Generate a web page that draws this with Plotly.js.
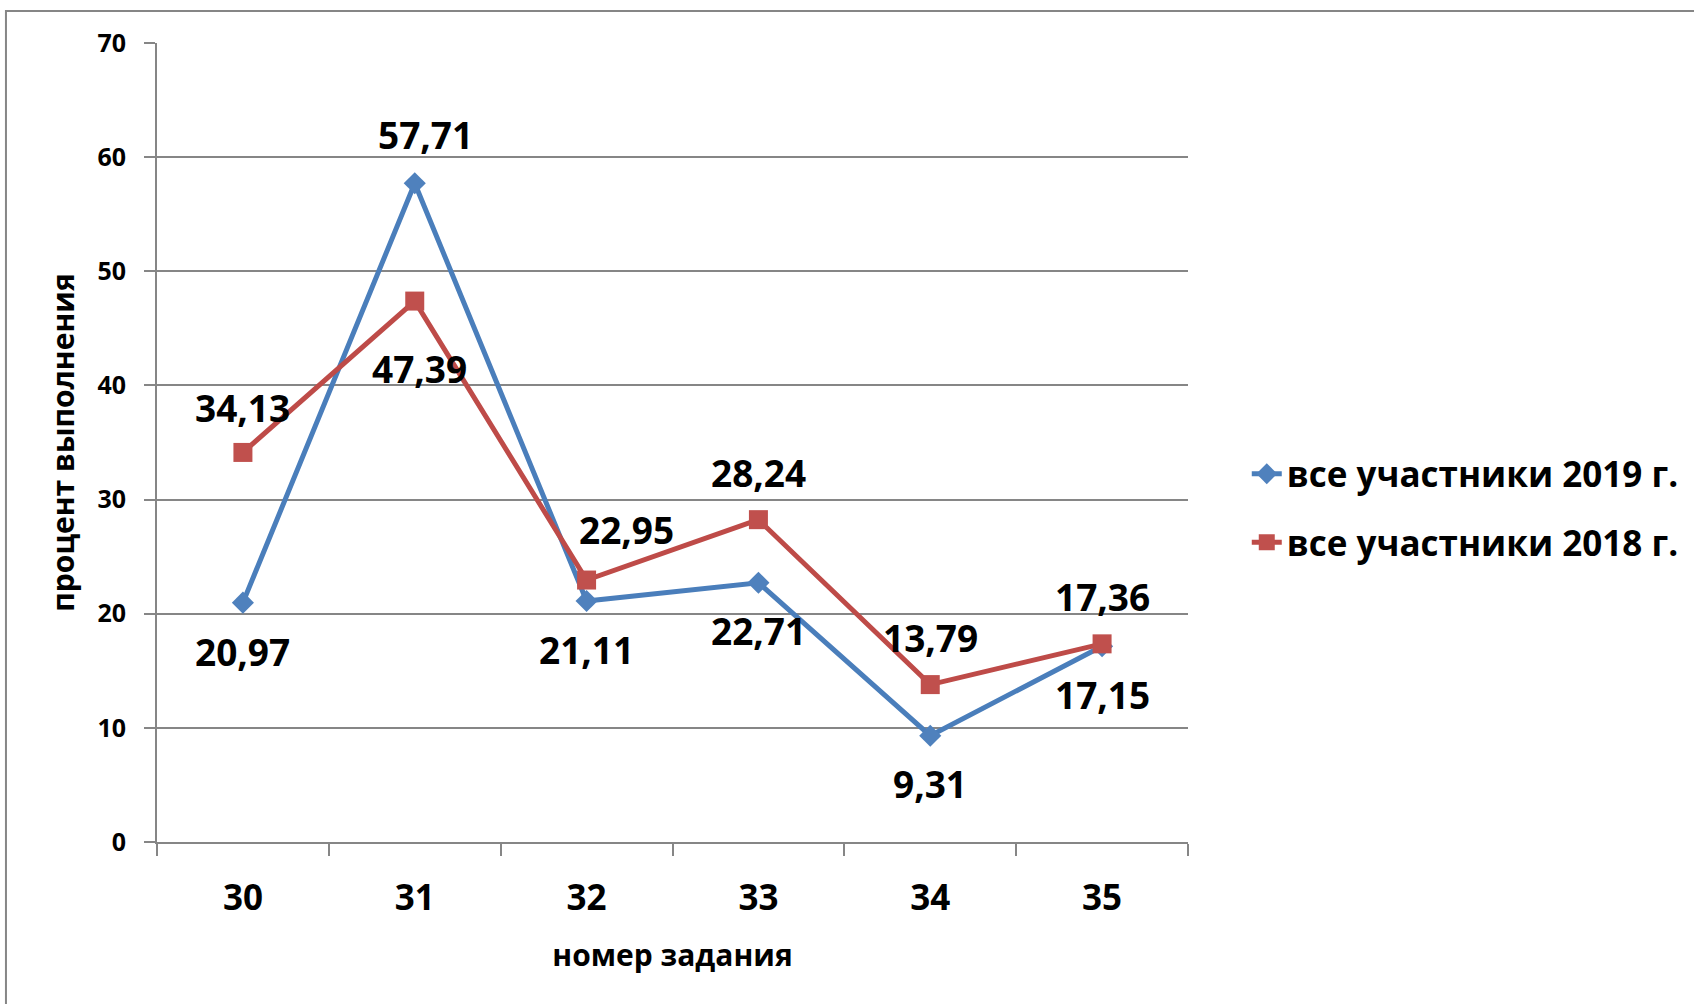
<!DOCTYPE html>
<html>
<head>
<meta charset="utf-8">
<script src="https://cdn.plot.ly/plotly-3.0.1.min.js"></script>
<style>
  html, body { margin: 0; padding: 0; background: #ffffff; }
  #chart { width: 1694px; height: 1004px; }
</style>
</head>
<body>
<div id="chart"></div>
<script>
// Task numbers on the x axis
const tasks = ['30', '31', '32', '33', '34', '35'];

// Completion percentage, all participants
const series2019 = [20.97, 57.71, 21.11, 22.71, 9.31, 17.15];
const series2018 = [34.13, 47.39, 22.95, 28.24, 13.79, 17.36];

const name2019 = 'все участники 2019 г.';
const name2018 = 'все участники 2018 г.';
const xTitle = 'номер задания';
const yTitle = 'процент выполнения';

const FONT = 'Open Sans, Noto Sans, sans-serif';
const BLUE_LINE = '#4A7EBB', BLUE_MARK = '#4F81BD';
const RED_LINE = '#BE4B48', RED_MARK = '#C0504D';
const GRID = '#868686';

// Pixel offsets of the value labels relative to their points
const shift2019 = [[0, -49], [11, 49], [0, -48], [0, -48], [0, -48], [0, -48]];
const shift2018 = [[0, 45], [5, -67], [40, 51], [0, 47], [0, 47], [0, 47]];

const fmt = v => v.toFixed(2).replace('.', ',');

const traces = [
  {
    x: tasks, y: series2019, name: name2019, type: 'scatter', mode: 'lines+markers',
    line: { color: BLUE_LINE, width: 5 },
    marker: { symbol: 'diamond', size: 17, color: BLUE_MARK },
    legendgroup: 'a', hoverinfo: 'skip'
  },
  {
    x: tasks, y: series2018, name: name2018, type: 'scatter', mode: 'lines+markers',
    line: { color: RED_LINE, width: 5 },
    marker: { symbol: 'square', size: 19, color: RED_MARK },
    legendgroup: 'b', hoverinfo: 'skip'
  }
];

const labelFont = { family: FONT, size: 37, color: '#000000', weight: 700 };
const annotations = [];
function addLabels(vals, shifts) {
  vals.forEach((v, i) => {
    // category axes take the category index as position
    annotations.push({
      x: i, y: v, xref: 'x', yref: 'y', text: fmt(v), showarrow: false,
      xshift: shifts[i][0], yshift: shifts[i][1], font: labelFont
    });
  });
}
addLabels(series2019, shift2019);
addLabels(series2018, shift2018);

const layout = {
  width: 1694, height: 1004, autosize: false,
  margin: { l: 157, r: 506, t: 43, b: 162, pad: 0, autoexpand: false },
  paper_bgcolor: '#ffffff', plot_bgcolor: '#ffffff',
  showlegend: true,
  xaxis: {
    type: 'category', range: [-0.5, tasks.length - 0.5], autorange: false,
    categoryorder: 'array', categoryarray: tasks,
    showgrid: false, zeroline: false,
    showline: true, linecolor: GRID, linewidth: 2,
    ticks: 'outside', tickson: 'boundaries', ticklen: 12, tickwidth: 2, tickcolor: GRID,
    tickangle: 0,
    tickfont: { family: FONT, size: 35, color: '#000000', weight: 700 },
    ticklabelstandoff: 24,
    title: { text: xTitle, standoff: 26, font: { family: FONT, size: 30, color: '#000000', weight: 700 } },
    automargin: false, fixedrange: true
  },
  yaxis: {
    range: [0, 70], autorange: false, dtick: 10, tick0: 0,
    showgrid: true, gridcolor: GRID, gridwidth: 2, zeroline: false,
    showline: true, linecolor: GRID, linewidth: 2,
    ticks: 'outside', ticklen: 11, tickwidth: 2, tickcolor: GRID,
    tickfont: { family: FONT, size: 25, color: '#000000', weight: 700 },
    ticklabelstandoff: 13,
    title: { text: yTitle, standoff: 14, font: { family: FONT, size: 30, color: '#000000', weight: 700 } },
    automargin: false, fixedrange: true
  },
  legend: {
    x: 1.057, xanchor: 'left', y: 0.418, yanchor: 'middle',
    traceorder: 'grouped', tracegroupgap: 20,
    font: { family: FONT, size: 35, color: '#000000', weight: 700 },
    bgcolor: 'rgba(0,0,0,0)', borderwidth: 0
  },
  annotations: annotations,
  shapes: [
    {
      type: 'rect', xref: 'paper', yref: 'paper',
      x0: -0.1465, y0: 1.040, x1: 1.8, y1: -0.5,
      line: { color: GRID, width: 2 }, fillcolor: 'rgba(0,0,0,0)', layer: 'below'
    }
  ]
};

Plotly.newPlot('chart', traces, layout, { displayModeBar: false, staticPlot: true });
</script>
</body>
</html>
